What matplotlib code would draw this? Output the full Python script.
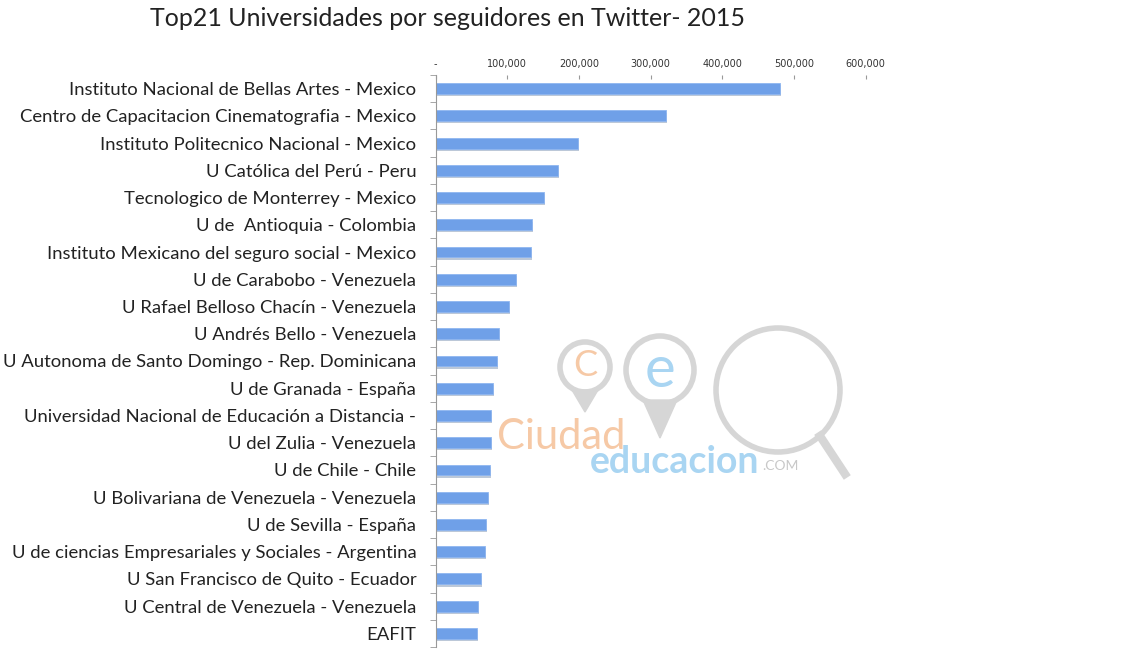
import numpy as np
import matplotlib.pyplot as plt
from matplotlib.patches import Circle, Polygon
from matplotlib.lines import Line2D
from matplotlib.transforms import IdentityTransform
from matplotlib.ticker import FuncFormatter

universidades = [
    "Instituto Nacional de Bellas Artes - Mexico",
    "Centro de Capacitacion Cinematografia - Mexico",
    "Instituto Politecnico Nacional - Mexico",
    "U Católica del Perú - Peru",
    "Tecnologico de Monterrey - Mexico",
    "U de  Antioquia - Colombia",
    "Instituto Mexicano del seguro social - Mexico",
    "U de Carabobo - Venezuela",
    "U Rafael Belloso Chacín - Venezuela",
    "U Andrés Bello - Venezuela",
    "U Autonoma de Santo Domingo - Rep. Dominicana",
    "U de Granada - España",
    "Universidad Nacional de Educación a Distancia -",
    "U del Zulia - Venezuela",
    "U de Chile - Chile",
    "U Bolivariana de Venezuela - Venezuela",
    "U de Sevilla - España",
    "U de ciencias Empresariales y Sociales - Argentina",
    "U San Francisco de Quito - Ecuador",
    "U Central de Venezuela - Venezuela",
    "EAFIT",
]
seguidores = [480000, 321500, 198500, 171000, 150700, 134800, 133000, 112000,
              102700, 88700, 86000, 79500, 77600, 77200, 75300, 72500, 69800,
              68800, 63200, 59000, 57200]

W, H = 1129, 655
fig = plt.figure(figsize=(W / 100, H / 100), dpi=100)
ax = fig.add_axes([435.7 / W, 1 - 647 / H, 430 / W, 572 / H])

y = np.arange(len(universidades))
# shadow then bar
ax.barh(y + 0.08, seguidores, height=0.4, color="#bcc8d8", left=1500, zorder=1)
ax.barh(y, seguidores, height=0.4, color="#6fa0e8", edgecolor="#8fb6f0",
        linewidth=0.6, zorder=2)

ax.set_xlim(0, 600000)
ax.set_ylim(len(universidades) - 0.5, -0.5)
ax.xaxis.tick_top()
ax.set_xticks(np.arange(0, 600001, 100000))
ax.xaxis.set_major_formatter(FuncFormatter(lambda v, p: "-" if v == 0 else f"{int(v):,}"))
ax.tick_params(axis="x", direction="in", length=3, color="#999999",
               labelsize=7, labelcolor="#333333", pad=4)

ax.set_yticks(y)
ax.set_yticklabels(universidades, fontsize=13.3, family="Lato", color="#222222")
ax.set_yticks(np.arange(-0.5, len(universidades)), minor=True)
ax.tick_params(axis="y", which="major", length=0, pad=14)
ax.tick_params(axis="y", which="minor", length=4, color="#999999")

for s in ["top", "right", "bottom"]:
    ax.spines[s].set_visible(False)
ax.spines["left"].set_color("#999999")

fig.text(448 / W, 1 - 18 / H, "Top21 Universidades por seguidores en Twitter- 2015",
         ha="center", va="center", fontsize=18, family="Lato", color="#222222")

# watermark, drawn in pixel coordinates (y from top)
px = IdentityTransform()
grey = "#d6d6d6"


def P(x, yy):
    return (x, H - yy)


fig.patches.append(Circle(P(585, 367), 25, transform=px, fill=False, ec=grey, lw=4, zorder=0))
fig.patches.append(Polygon([P(572, 390), P(598, 390), P(585, 412)], transform=px,
                           color=grey, zorder=0))
fig.patches.append(Circle(P(660, 370), 34, transform=px, fill=False, ec=grey, lw=4, zorder=0))
fig.patches.append(Polygon([P(643, 400), P(677, 400), P(660, 438)], transform=px,
                           color=grey, zorder=0))
fig.patches.append(Circle(P(778, 390), 62, transform=px, fill=False, ec=grey, lw=4, zorder=0))
fig.lines.append(Line2D([820, 845], [H - 436, H - 474], transform=px,
                        color=grey, lw=6, zorder=0))
fig.text(585 / W, 1 - 366 / H, "C", color="#f6c9a6", fontsize=26, ha="center", va="center",
         family="Lato")
fig.text(660 / W, 1 - 370 / H, "e", color="#a9d5f2", fontsize=42, ha="center", va="center",
         family="Lato")
fig.text(497 / W, 1 - 437 / H, "Ciudad", color="#f6c9a6", fontsize=30, va="center",
         family="Lato")
fig.text(590 / W, 1 - 462 / H, "educacion", color="#a9d5f2", fontsize=27, va="center",
         family="Lato", fontweight="bold")
fig.text(762 / W, 1 - 466 / H, ".COM", color="#c8c8c8", fontsize=10, va="center",
         family="Lato")

fig.savefig("out.png", dpi=100)
